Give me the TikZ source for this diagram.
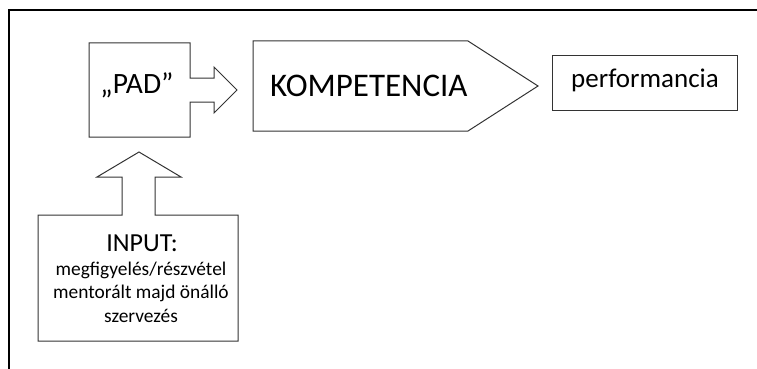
\documentclass[tikz,border=0pt]{standalone}
\usepackage{fontspec}
\setmainfont{Carlito}
\begin{document}
\begin{tikzpicture}[x=1pt,y=-1pt,
  shapeline/.style={draw=black!80, line width=1pt, line join=miter},
  txt/.style={inner sep=0pt, text=black}]
\useasboundingbox (0,0) rectangle (757,369);
% frame
\draw[line width=2pt] (9,369) -- (9,10) -- (757,10);
% PAD block with right arrow
\draw[shapeline] (89,43) -- (190,43) -- (190,78) -- (214,78) -- (214,67) -- (237,90)
  -- (214,113) -- (214,102) -- (190,102) -- (190,137) -- (89,137) -- cycle;
\node[txt, font=\fontsize{29.5}{32}\selectfont, anchor=base] (pad) at (137,93) {„PAD”};
% KOMPETENCIA pentagon
\draw[shapeline] (253,41) -- (468,41) -- (538,86) -- (468,131) -- (253,131) -- cycle;
\node[txt, anchor=base west, font=\fontsize{33}{36}\selectfont] (komp) at (270,96) {KOMPETENCIA};
% performancia
\draw[shapeline] (552,56) rectangle (737,110);
\node[txt, anchor=base, font=\fontsize{27}{30}\selectfont] (perf) at (645,88) {performancia};
% INPUT block with up arrow
\draw[shapeline] (38,341) -- (38,215) -- (122,215) -- (122,177) -- (97,177) -- (139,152)
  -- (181,177) -- (155,177) -- (155,215) -- (238,215) -- (238,341) -- cycle;
\node[txt, anchor=base, font=\fontsize{26}{28}\selectfont] (inp) at (142,251) {INPUT:};
\node[txt, anchor=base, font=\fontsize{19.4}{22}\selectfont] (l1) at (141,275) {megfigyelés/részvétel};
\node[txt, anchor=base, font=\fontsize{19.4}{22}\selectfont] (l2) at (141,298.5) {mentorált majd önálló};
\node[txt, anchor=base, font=\fontsize{19.4}{22}\selectfont] (l3) at (141,322) {szervezés};
\end{tikzpicture}
\end{document}
